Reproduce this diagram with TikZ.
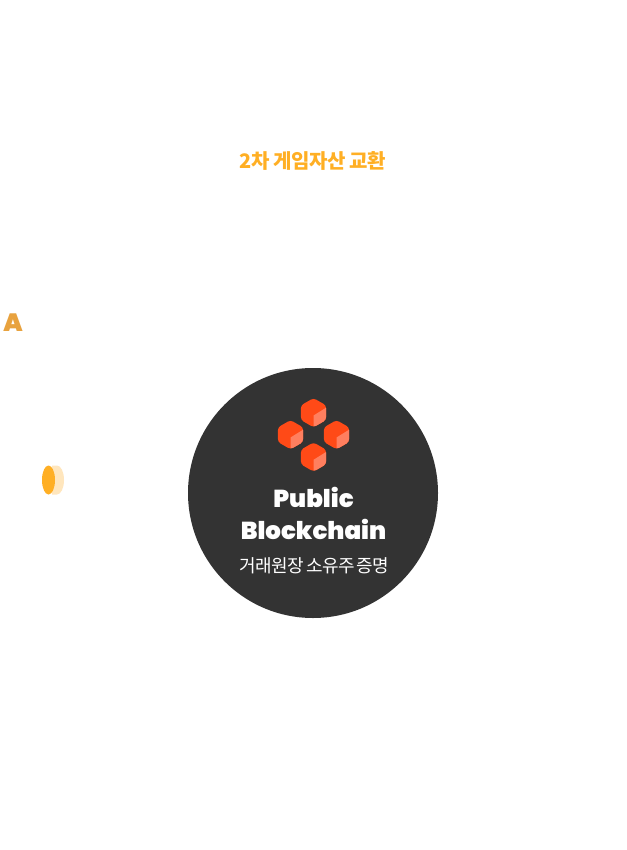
\documentclass[tikz,border=0pt]{standalone}
\usepackage{fontspec}
\setmainfont{Poppins}
\newfontfamily\krfont[WordSpace=0.6,LetterSpace=-3]{Noto Sans CJK KR}
\newfontfamily\krtitle[WordSpace=0.9,LetterSpace=-2]{Noto Sans CJK KR}
\newfontfamily\popfont[BoldFont={Poppins Black}]{Poppins}
\definecolor{amberc}{HTML}{FFAF24}
\definecolor{paleamber}{HTML}{FFE6BD}
\definecolor{letterc}{HTML}{E8A23E}
\definecolor{discc}{HTML}{333333}
\definecolor{cubedark}{HTML}{FF4A17}
\definecolor{cubelight}{HTML}{FF7F5F}
\tikzset{
  cubebody/.style={rounded corners=3pt},
  lbl/.style={inner sep=0pt, align=center},
}
\newcommand{\cubeat}[2]{%
  \begin{scope}[shift={(#1,#2)}]
    \fill[cubedark, cubebody] (0,-14.6)--(12.6,-7.3)--(12.6,7.3)--(0,14.6)--(-12.6,7.3)--(-12.6,-7.3)--cycle;
    \clip[cubebody] (0,-14.6)--(12.6,-7.3)--(12.6,7.3)--(0,14.6)--(-12.6,7.3)--(-12.6,-7.3)--cycle;
    \fill[cubelight] (0,2.8)--(14,-5.9)--(14,16)--(0,16)--cycle;
  \end{scope}}
\begin{document}
\begin{tikzpicture}[x=1pt,y=-1pt]
\useasboundingbox (0,0) rectangle (626,850);
\fill[white] (0,0) rectangle (626,850);
\node[lbl, text=amberc, font=\krtitle\bfseries\fontsize{20}{22}\selectfont] (title) at (312.5,161) {2차 게임자산 교환};
\node[lbl, text=letterc, font=\popfont\bfseries\fontsize{25}{26}\selectfont] (letterA) at (13,322.5) {A};
\fill[paleamber] (52,465.5) -- (57,465.5) arc[start angle=-90, end angle=90, x radius=7, y radius=14.5] -- (52,494.5) -- cycle;
\fill[amberc] (48.5,480) ellipse[x radius=6.5, y radius=14.5];
\node[circle, fill=discc, minimum size=250pt, inner sep=0pt] (disc) at (313,493) {};
\cubeat{313.5}{412.7}
\cubeat{290.5}{434.7}
\cubeat{336.5}{434.7}
\cubeat{313.5}{457}
\node[lbl, text=white, font=\popfont\bfseries\fontsize{24.5}{32}\selectfont] (chain) at (313.5,513) {Public\\Blockchain};
\node[lbl, text=white, font=\krfont\fontsize{18}{20}\selectfont] (proof) at (314.5,566) {거래원장 소유주 증명};
\end{tikzpicture}
\end{document}
